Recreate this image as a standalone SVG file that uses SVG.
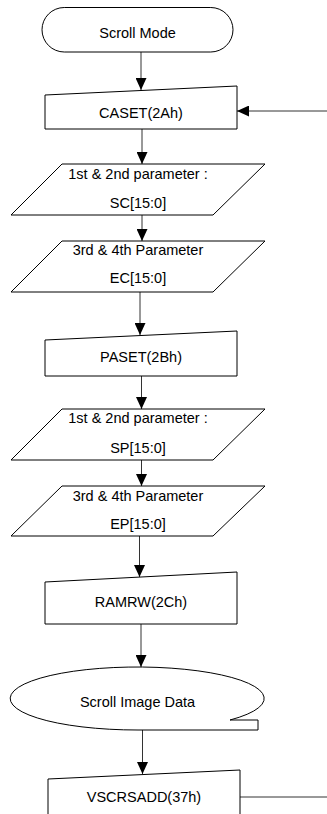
<svg xmlns="http://www.w3.org/2000/svg" width="327" height="814" viewBox="0 0 327 814">
<style>
.s{fill:#fff;stroke:#000;stroke-width:1}
.t{font-family:"Liberation Sans",Arial,sans-serif;font-size:14.5px;fill:#000;text-anchor:middle}
.c{fill:none;stroke:#333;stroke-width:1}
</style>
<defs>
<marker id="ah" markerWidth="12" markerHeight="11" refX="12" refY="5.5" viewBox="0 0 12 11" markerUnits="userSpaceOnUse" orient="auto">
<path d="M0,0 L12,5.5 L0,11 Z" fill="#000"/>
</marker>
</defs>
<rect width="327" height="814" fill="#fff"/>
<g id="connectors">
<line class="c" x1="141" y1="52" x2="141" y2="90" marker-end="url(#ah)"/>
<line class="c" x1="142" y1="129" x2="142" y2="164" marker-end="url(#ah)"/>
<line class="c" x1="142" y1="215" x2="142" y2="241" marker-end="url(#ah)"/>
<line class="c" x1="140" y1="292" x2="140" y2="335" marker-end="url(#ah)"/>
<line class="c" x1="141.5" y1="376" x2="141.5" y2="409" marker-end="url(#ah)"/>
<line class="c" x1="141.5" y1="460" x2="141.5" y2="486" marker-end="url(#ah)"/>
<line class="c" x1="139.5" y1="536" x2="139.5" y2="577" marker-end="url(#ah)"/>
<line class="c" x1="141" y1="624" x2="141" y2="667" marker-end="url(#ah)"/>
<line class="c" x1="142.5" y1="730" x2="142.5" y2="774" marker-end="url(#ah)"/>
<line class="c" x1="327" y1="111" x2="237" y2="111" marker-end="url(#ah)"/>
<line class="c" x1="240" y1="797" x2="327" y2="797"/>
</g>
<g id="scroll-mode">
<rect class="s" x="42" y="7.5" width="191" height="44.5" rx="22.25" ry="22.25"/>
<text class="t" x="137.5" y="38">Scroll Mode</text>
</g>
<g id="caset">
<path class="s" d="M45,95 L237,86 L237,129 L45,129 Z"/>
<text class="t" x="141" y="118">CASET(2Ah)</text>
</g>
<g id="sc-param">
<path class="s" d="M62,164 L265,164 L213,215 L11,215 Z"/>
<text class="t" x="138" y="179">1st &amp; 2nd parameter :</text>
<text class="t" x="138" y="208">SC[15:0]</text>
</g>
<g id="ec-param">
<path class="s" d="M62,241 L265,241 L213,292 L11,292 Z"/>
<text class="t" x="138" y="255">3rd &amp; 4th Parameter</text>
<text class="t" x="138" y="283">EC[15:0]</text>
</g>
<g id="paset">
<path class="s" d="M45,340 L237,331 L237,376 L45,376 Z"/>
<text class="t" x="141" y="362">PASET(2Bh)</text>
</g>
<g id="sp-param">
<path class="s" d="M62,409 L265,409 L213,460 L11,460 Z"/>
<text class="t" x="138" y="423">1st &amp; 2nd parameter :</text>
<text class="t" x="138" y="453">SP[15:0]</text>
</g>
<g id="ep-param">
<path class="s" d="M62,486 L265,486 L213,536 L11,536 Z"/>
<text class="t" x="138" y="501">3rd &amp; 4th Parameter</text>
<text class="t" x="138" y="529">EP[15:0]</text>
</g>
<g id="ramrw">
<path class="s" d="M45,582 L237,572 L237,624 L45,624 Z"/>
<text class="t" x="141" y="607">RAMRW(2Ch)</text>
</g>
<g id="scroll-image-data">
<path class="s" d="M230,720 A127,31.5 0 1 0 138,730 L258,730 L258,720 Z"/>
<text class="t" x="137.5" y="707">Scroll Image Data</text>
</g>
<g id="vscrsadd">
<path class="s" d="M48,779 L240,770 L240,820 L48,820 Z"/>
<text class="t" x="144" y="802">VSCRSADD(37h)</text>
</g>
</svg>
